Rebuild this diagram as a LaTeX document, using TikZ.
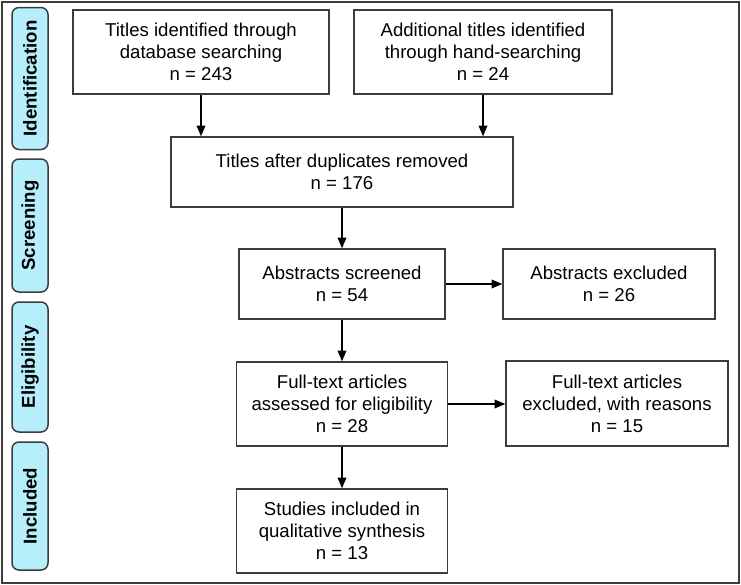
\documentclass[tikz,border=0pt]{standalone}
\usepackage{fontspec}
\setmainfont{Liberation Sans}
\usepackage{xcolor}
\usetikzlibrary{arrows, positioning}
\definecolor{stagecyan}{RGB}{182,238,252}
\definecolor{linegray}{RGB}{60,60,60}
\tikzstyle{block} = [rectangle, draw=linegray, line width=1.5pt, fill=white, align=center, inner sep=0pt, font=\fontsize{18.6}{22}\selectfont]
\tikzstyle{stage} = [rectangle, rounded corners=7pt, draw=linegray, line width=1.5pt, fill=stagecyan, minimum height=36pt, inner sep=0pt, font=\fontsize{18.6}{22}\selectfont\bfseries]
\tikzstyle{arrow} = [line width=1.5pt,-triangle 45]

\begin{document}
\begin{tikzpicture}[x=1pt, y=-1pt]
    \useasboundingbox (0,0) rectangle (741,584);
    \draw [draw=linegray, line width=2pt] (1.5,1.5) rectangle (739,582.5);

    % stages on the left
    \node (ident) [stage, minimum width=142pt, rotate=90] at (30,78.5) {Identification};
    \node (screen) [stage, minimum width=133pt, rotate=90] at (30,225.5) {Screening};
    \node (elig) [stage, minimum width=130pt, rotate=90] at (30,367) {Eligibility};
    \node (incl) [stage, minimum width=128pt, rotate=90] at (30,506) {Included};

    % flow boxes
    \node (db) [block, minimum width=256pt, minimum height=84pt] at (201,52) {Titles identified through\\database searching\\n = 243};
    \node (hand) [block, minimum width=258pt, minimum height=84pt] at (483,52) {Additional titles identified\\through hand-searching\\n = 24};
    \node (dupl) [block, minimum width=342pt, minimum height=70pt] at (342,172) {Titles after duplicates removed\\n = 176};
    \node (abs) [block, minimum width=206pt, minimum height=70pt] at (342,284) {Abstracts screened\\n = 54};
    \node (absex) [block, minimum width=212pt, minimum height=70pt] at (609,284) {Abstracts excluded\\n = 26};
    \node (full) [block, minimum width=211pt, minimum height=84pt] at (342,404) {Full-text articles\\assessed for eligibility\\n = 28};
    \node (fullex) [block, minimum width=222pt, minimum height=85pt] at (617,403.5) {Full-text articles\\excluded, with reasons\\n = 15};
    \node (synth) [block, minimum width=211pt, minimum height=84pt] at (342,531) {Studies included in\\qualitative synthesis\\n = 13};

    \draw [arrow] (db) -- (db |- dupl.north);
    \draw [arrow] (hand) -- (hand |- dupl.north);
    \draw [arrow] (dupl) -- (abs);
    \draw [arrow] (abs) -- (absex);
    \draw [arrow] (abs) -- (full);
    \draw [arrow] (full) -- (full -| fullex.west);
    \draw [arrow] (full) -- (synth);
\end{tikzpicture}
\end{document}
